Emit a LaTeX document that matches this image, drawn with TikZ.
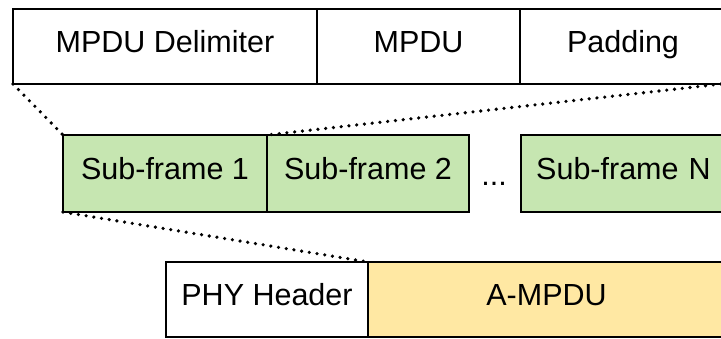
\documentclass[tikz,border=0pt]{standalone}
\usepackage{fontspec}
\setmainfont{Liberation Sans}
\definecolor{sfgreen}{HTML}{C6E6B1}
\definecolor{ampdu}{HTML}{FFE8A3}
\begin{document}
\begin{tikzpicture}[x=1pt,y=-1pt,
  box/.style={draw=black, line width=2pt, inner sep=0pt, outer sep=0pt,
    anchor=north west, text height=12.2pt, text depth=0pt,
    font=\fontsize{30.5}{36}\selectfont},
  dotline/.style={line width=3.6pt, line cap=round, dash pattern=on 0pt off 7.8pt}]
\useasboundingbox (0,0) rectangle (721,338);
\clip (0,0) rectangle (721,338);
% top row
\node[box, minimum width=304pt, minimum height=75pt] (delim) at (13,9) {MPDU Delimiter};
\node[box, minimum width=203pt, minimum height=75pt] (mpdu) at (317,9) {MPDU};
\node[box, minimum width=206pt, minimum height=75pt, text width=201pt, align=center] (pad) at (520,9) {Padding};
% middle row
\node[box, fill=sfgreen, minimum width=204pt, minimum height=77pt] (sf1) at (63,135) {Sub-frame 1};
\node[box, fill=sfgreen, minimum width=202pt, minimum height=77pt] (sf2) at (267,135) {Sub-frame 2};
\node[font=\fontsize{30.5}{36}\selectfont, inner sep=0pt, anchor=base] (dots) at (494,185) {...};
\node[box, fill=sfgreen, minimum width=205pt, minimum height=77pt, text width=200pt, align=center] (sfn) at (521,135) {Sub-frame N};
% bottom row
\node[box, minimum width=202pt, minimum height=75pt] (phy) at (166,262) {PHY Header};
\node[box, fill=ampdu, minimum width=357pt, minimum height=75pt, text width=353pt, align=center] (amp) at (368,262) {A-MPDU};
% dotted connectors
\coordinate (padcorner) at (721,84);
\draw[dotline] (delim.south west) -- (sf1.north west);
\draw[dotline] (padcorner) -- (sf1.north east);
\draw[dotline] (sf1.south west) -- (phy.north east);
\end{tikzpicture}
\end{document}
